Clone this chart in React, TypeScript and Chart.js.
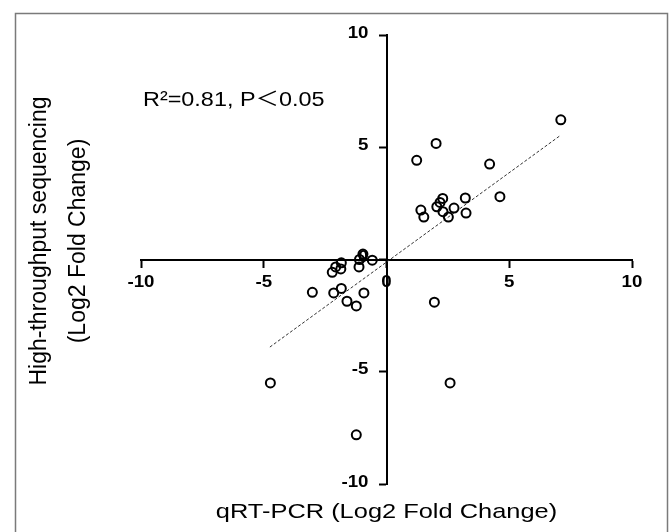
import React, { useEffect, useRef } from "react";
import { Chart, registerables } from "chart.js";

Chart.register(...registerables);

// qRT-PCR log2 fold change (x) vs high-throughput sequencing log2 fold change (y)
const qrtPcr = [
  7.1, 2.02, 1.23, 4.2, 4.62, 3.21, 2.29, 2.18, 2.05, 2.75, 1.4, 1.52, 2.3, 2.52, 3.24,
  -0.96, -1.1, -0.58, -1.12, -1.84, -2.07, -1.86, -2.21, -3.02, -2.15, -1.84, -1.61, -1.23, -0.92,
  -4.73, -1.23, 1.95, 2.59,
];
const sequencing = [
  6.22, 5.17, 4.42, 4.25, 2.8, 2.74, 2.72, 2.54, 2.35, 2.29, 2.2, 1.89, 2.13, 1.89, 2.07,
  0.24, 0.0, -0.03, -0.33, -0.15, -0.33, -0.42, -0.57, -1.46, -1.49, -1.29, -1.86, -2.07, -1.49,
  -5.5, -7.81, -1.9, -5.5,
];

// fitted trend line end points
const trendX = [-4.75, 7.05];
const trendY = [-3.9, 5.5];

const xTickValues = [-10, -5, 0, 5, 10];
const yTickValues = [-10, -5, 0, 5, 10];

const xTitle = "qRT-PCR (Log2 Fold Change)";
const yTitleLines = ["High-throughput sequencing", "(Log2 Fold Change)"];
const annotationText = "R²=0.81, P＜0.05";

const FONT = '"Liberation Sans", Arial, Helvetica, "Noto Sans CJK SC", sans-serif';

const decorPlugin = {
  id: "decor",
  beforeDraw(chart: any) {
    const ctx = chart.ctx;
    ctx.save();
    ctx.fillStyle = "#ffffff";
    ctx.fillRect(0, 0, chart.width, chart.height);
    ctx.strokeStyle = "#7a7a7a";
    ctx.lineWidth = 1.5;
    ctx.strokeRect(15.5, 13.5, 652, 540);
    ctx.restore();
  },
  afterDraw(chart: any) {
    const ctx = chart.ctx;
    const xs = chart.scales.x;
    const ys = chart.scales.y;
    const originX = xs.getPixelForValue(0);
    const originY = ys.getPixelForValue(0);
    ctx.save();
    ctx.fillStyle = "#000000";
    ctx.textBaseline = "middle";

    // tick labels
    ctx.font = `bold 17px ${FONT}`;
    xTickValues.forEach((v) => {
      ctx.save();
      ctx.textAlign = "center";
      ctx.translate(xs.getPixelForValue(v), originY + 23);
      ctx.scale(1.1, 1);
      ctx.fillText(String(v), 0, 0);
      ctx.restore();
    });
    yTickValues.forEach((v) => {
      ctx.save();
      ctx.textAlign = "right";
      ctx.translate(originX - 18, ys.getPixelForValue(v) - 2);
      ctx.scale(1.1, 1);
      ctx.fillText(String(v), 0, 0);
      ctx.restore();
    });

    // annotation
    ctx.save();
    ctx.font = `20px ${FONT}`;
    ctx.textAlign = "left";
    ctx.translate(143, 100);
    ctx.scale(1.17, 1);
    ctx.fillText(annotationText, 0, 0);
    ctx.restore();

    // x title
    ctx.save();
    ctx.font = `21px ${FONT}`;
    ctx.textAlign = "center";
    ctx.translate(originX, 512);
    ctx.scale(1.21, 1);
    ctx.fillText(xTitle, 0, 0);
    ctx.restore();

    // y title (two rotated lines)
    const cy = 241;
    const lineX = [40, 79];
    yTitleLines.forEach((line, i) => {
      ctx.save();
      ctx.font = `23px ${FONT}`;
      ctx.textAlign = "center";
      ctx.translate(lineX[i], cy);
      ctx.rotate(-Math.PI / 2);
      ctx.fillText(line, 0, 0);
      ctx.restore();
    });
    ctx.restore();
  },
};

export default function App() {
  const ref = useRef<HTMLCanvasElement | null>(null);

  useEffect(() => {
    if (!ref.current) return;
    const points = qrtPcr.map((x, i) => ({ x, y: sequencing[i] }));
    const trend = trendX.map((x, i) => ({ x, y: trendY[i] }));

    const gridOpts = {
      display: true,
      drawOnChartArea: false,
      drawTicks: true,
      tickLength: 7,
      tickWidth: 2,
      tickColor: "#000000",
      color: "#000000",
    };

    const chart = new Chart(ref.current, {
      type: "scatter",
      data: {
        datasets: [
          {
            label: "genes",
            data: points,
            pointRadius: 4.5,
            pointHoverRadius: 4.5,
            pointBorderWidth: 2,
            pointBorderColor: "#000000",
            pointBackgroundColor: "rgba(255,255,255,0)",
            order: 0,
          } as any,
          {
            type: "line",
            label: "trend",
            data: trend,
            borderColor: "#333333",
            borderWidth: 1,
            borderDash: [3, 2],
            pointRadius: 0,
            fill: false,
            order: 1,
          } as any,
        ],
      },
      options: {
        animation: false,
        responsive: false,
        maintainAspectRatio: false,
        layout: { padding: { left: 141, right: 38, top: 35, bottom: 48 } },
        plugins: {
          legend: { display: false },
          tooltip: { enabled: false },
          title: { display: false },
        },
        scales: {
          x: {
            type: "linear",
            min: -10,
            max: 10,
            position: { y: 0 } as any,
            afterBuildTicks: (axis: any) => {
              axis.ticks = xTickValues.map((v) => ({ value: v }));
            },
            grid: gridOpts,
            border: { display: true, color: "#000000", width: 2 },
            ticks: { display: false },
          },
          y: {
            type: "linear",
            min: -10,
            max: 10,
            position: { x: 0 } as any,
            afterBuildTicks: (axis: any) => {
              axis.ticks = yTickValues.map((v) => ({ value: v }));
            },
            grid: gridOpts,
            border: { display: true, color: "#000000", width: 2 },
            ticks: { display: false },
          },
        },
      },
      plugins: [decorPlugin],
    });
    return () => chart.destroy();
  }, []);

  return (
    <div style={{ position: "fixed", left: 0, top: 0, width: 670, height: 532, background: "#fff" }}>
      <canvas ref={ref} width={670} height={532} style={{ display: "block", width: 670, height: 532 }} />
    </div>
  );
}
